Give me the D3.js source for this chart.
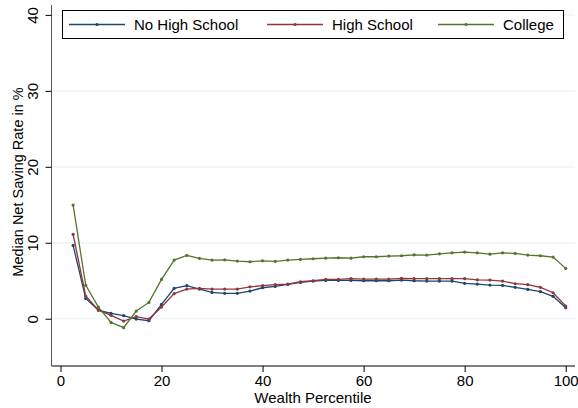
<!DOCTYPE html>
<html>
<head>
<meta charset="utf-8">
<script src="https://cdn.jsdelivr.net/npm/d3@7"></script>
<style>
  body { margin: 0; background: #fff; }
  text { font-family: "Liberation Sans", Arial, sans-serif; }
</style>
</head>
<body>
<div id="chart"></div>
<script>
// wealth percentile bins
const percentiles = [2.5, 5, 7.5, 10, 12.5, 15, 17.5, 20, 22.5, 25, 27.5, 30, 32.5, 35, 37.5, 40,
  42.5, 45, 47.5, 50, 52.5, 55, 57.5, 60, 62.5, 65, 67.5, 70, 72.5, 75, 77.5, 80,
  82.5, 85, 87.5, 90, 92.5, 95, 97.5, 100];

const noHighSchool = [9.65, 2.68, 1.14, 0.7, 0.4, -0.04, -0.26, 1.9, 4.0, 4.35, 3.9, 3.47, 3.34, 3.34, 3.64, 4.08,
  4.26, 4.52, 4.78, 4.96, 5.04, 5.04, 5.04, 5.0, 5.0, 5.0, 5.09, 5.0, 4.96, 4.96, 4.96, 4.66,
  4.57, 4.43, 4.39, 4.13, 3.86, 3.56, 2.95, 1.45];

const highSchool = [11.1, 2.99, 1.14, 0.45, -0.3, 0.27, -0.04, 1.54, 3.3, 3.9, 4.0, 3.9, 3.9, 3.9, 4.2, 4.35,
  4.48, 4.57, 4.87, 5.0, 5.18, 5.18, 5.27, 5.22, 5.22, 5.22, 5.31, 5.27, 5.27, 5.27, 5.27, 5.27,
  5.13, 5.09, 4.96, 4.61, 4.48, 4.13, 3.42, 1.67];

const college = [14.96, 4.39, 1.54, -0.48, -1.18, 1.01, 2.15, 5.18, 7.72, 8.34, 7.94, 7.72, 7.76, 7.59, 7.5, 7.63,
  7.54, 7.72, 7.81, 7.9, 7.98, 8.03, 7.98, 8.16, 8.16, 8.25, 8.29, 8.42, 8.38, 8.55, 8.68, 8.77,
  8.68, 8.5, 8.68, 8.6, 8.38, 8.29, 8.12, 6.63];

const xTicks = [0, 20, 40, 60, 80, 100];
const yTicks = [0, 10, 20, 30, 40];

const seriesNames = ["No High School", "High School", "College"];
const seriesColors = ["#1a476f", "#90353b", "#55752f"];
const seriesValues = [noHighSchool, highSchool, college];

const W = 578, H = 408;
const plotL = 51.5, plotR = 575, plotT = 5, plotB = 366;

const svg = d3.select("#chart")
  .append("svg")
    .attr("width", W)
    .attr("height", H)
    .style("background-color", "#fff");

const x = d3.scaleLinear()
  .domain([-1.78, 101.84])
  .range([plotL, plotR]);

const y = d3.scaleLinear()
  .domain([-6.22, 41.3])
  .range([plotB, plotT]);

// gridlines
svg.append("g")
  .selectAll("line")
  .data(yTicks)
  .enter()
  .append("line")
    .attr("x1", plotL)
    .attr("x2", plotR)
    .attr("y1", d => y(d))
    .attr("y2", d => y(d))
    .attr("stroke", "#eaf2f3")
    .attr("stroke-width", 1.2);

// x axis
const xAxis = svg.append("g")
  .attr("transform", "translate(0," + plotB + ")")
  .call(d3.axisBottom(x).tickValues(xTicks).tickSize(6).tickPadding(3).tickSizeOuter(0));
xAxis.select(".domain").attr("d", "M" + plotL + ",0H" + plotR);
xAxis.selectAll("text")
  .style("font-size", "15px")
  .style("fill", "#000");

svg.append("text")
  .attr("x", 313)
  .attr("y", 403)
  .attr("text-anchor", "middle")
  .style("font-size", "15px")
  .text("Wealth Percentile");

// y axis
const yAxis = svg.append("g")
  .attr("transform", "translate(" + plotL + ",0)")
  .call(d3.axisLeft(y).tickValues(yTicks).tickSize(6).tickSizeOuter(0));
yAxis.select(".domain").attr("d", "M0," + plotT + "V" + plotB);
yAxis.selectAll(".tick text")
  .attr("x", 0)
  .attr("dy", 0)
  .attr("text-anchor", "middle")
  .attr("transform", "translate(-13.5,0) rotate(-90)")
  .style("font-size", "15px")
  .style("fill", "#000");

svg.selectAll(".domain, .tick line")
  .attr("stroke", "#000")
  .attr("stroke-width", 1);
yAxis.select(".domain").attr("stroke", "#555");

svg.append("text")
  .attr("transform", "rotate(-90)")
  .attr("x", -182)
  .attr("y", 22.5)
  .attr("text-anchor", "middle")
  .style("font-size", "14.5px")
  .text("Median Net Saving Rate in %");

// lines
const line = d3.line()
  .x(d => x(d[0]))
  .y(d => y(d[1]));

seriesValues.forEach(function(vals, i) {
  const pts = percentiles.map((p, j) => [p, vals[j]]);
  svg.append("path")
    .datum(pts)
    .attr("fill", "none")
    .attr("stroke", seriesColors[i])
    .attr("stroke-width", 1.3)
    .attr("d", line);
  svg.append("g")
    .selectAll("circle")
    .data(pts)
    .enter()
    .append("circle")
      .attr("cx", d => x(d[0]))
      .attr("cy", d => y(d[1]))
      .attr("r", 1.6)
      .attr("fill", seriesColors[i]);
});

// legend
const legend = svg.append("g");
legend.append("rect")
  .attr("x", 62.5)
  .attr("y", 10.5)
  .attr("width", 501)
  .attr("height", 28)
  .attr("fill", "#fff")
  .attr("stroke", "#000")
  .attr("stroke-width", 1);

const legendX = [69, 267, 438];
seriesNames.forEach(function(name, i) {
  const lx = legendX[i];
  legend.append("line")
    .attr("x1", lx)
    .attr("x2", lx + 56)
    .attr("y1", 24.5)
    .attr("y2", 24.5)
    .attr("stroke", seriesColors[i])
    .attr("stroke-width", 1.3);
  legend.append("circle")
    .attr("cx", lx + 28)
    .attr("cy", 24.5)
    .attr("r", 1.6)
    .attr("fill", seriesColors[i]);
  legend.append("text")
    .attr("x", lx + 65)
    .attr("y", 29.5)
    .style("font-size", "15px")
    .text(name);
});
</script>
</body>
</html>
